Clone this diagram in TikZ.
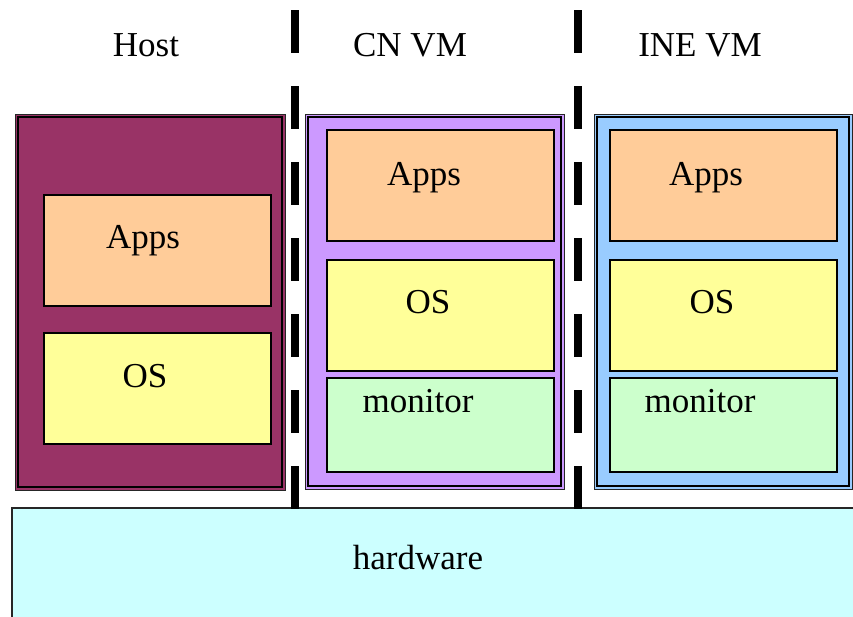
\documentclass[tikz,border=0pt]{standalone}
\usepackage{fontspec}
\setmainfont{Liberation Serif}
\definecolor{hostc}{HTML}{993366}
\definecolor{cnc}{HTML}{CC99FF}
\definecolor{inec}{HTML}{99CCFF}
\definecolor{appsc}{HTML}{FFCC99}
\definecolor{osc}{HTML}{FFFF99}
\definecolor{monc}{HTML}{CCFFCC}
\definecolor{hwc}{HTML}{CCFFFF}
\tikzset{
  outerline/.style={draw=black!85, line width=0.9pt},
  innerline/.style={draw=black, line width=1.1pt},
  layerbox/.style={draw=black, line width=1.3pt},
  lbl/.style={anchor=base, inner sep=0pt, font=\fontsize{35}{40}\selectfont},
  sepline/.style={line width=8pt, dash pattern=on 43pt off 33pt, line cap=butt}
}
\begin{document}
\begin{tikzpicture}[x=1pt,y=-1pt]
\useasboundingbox (0,0) rectangle (853,616);
% hardware
\fill[hwc] (12,508) rectangle (880,640);
\draw[line width=1.3pt, black!85] (12,640) -- (12,508) -- (880,508);
% Host container
\fill[hostc] (15,114) rectangle (285,490);
\draw[outerline] (15,114) rectangle (285,490);
\draw[innerline] (18,117) rectangle (282,487);
% CN VM container
\fill[cnc] (305,114) rectangle (564,489);
\draw[outerline] (305,114) rectangle (564,489);
\draw[innerline] (308,117) rectangle (561,486);
% INE VM container
\fill[inec] (594,114) rectangle (852,489);
\draw[outerline] (594,114) rectangle (852,489);
\draw[innerline] (597,117) rectangle (849,486);
% Host layers
\draw[layerbox, fill=appsc] (44,195) rectangle (271,306);
\draw[layerbox, fill=osc] (44,333) rectangle (271,444);
% CN layers
\draw[layerbox, fill=appsc] (327,130) rectangle (554,241);
\draw[layerbox, fill=osc] (327,260) rectangle (554,371);
\draw[layerbox, fill=monc] (327,378) rectangle (554,472);
% INE layers
\draw[layerbox, fill=appsc] (610,130) rectangle (837,241);
\draw[layerbox, fill=osc] (610,260) rectangle (837,371);
\draw[layerbox, fill=monc] (610,378) rectangle (837,472);
% separators
\coordinate (s1a) at (295,10);
\coordinate (s1b) at (295,509);
\coordinate (s2a) at (578,10);
\coordinate (s2b) at (578,509);
\draw[sepline] (s1a) -- (s1b);
\draw[sepline] (s2a) -- (s2b);
% labels
\node[lbl] (thost) at (146,56) {Host};
\node[lbl] (tcn) at (410,56) {CN VM};
\node[lbl] (tine) at (700,56) {INE VM};
\node[lbl] (happs) at (143,248) {Apps};
\node[lbl] (hos) at (145,387) {OS};
\node[lbl] (capps) at (424,185) {Apps};
\node[lbl] (cos) at (428,313) {OS};
\node[lbl] (cmon) at (418,412) {monitor};
\node[lbl] (iapps) at (706,185) {Apps};
\node[lbl] (ios) at (712,313) {OS};
\node[lbl] (imon) at (700,412) {monitor};
\node[lbl] (hw) at (418,569) {hardware};
\end{tikzpicture}
\end{document}
